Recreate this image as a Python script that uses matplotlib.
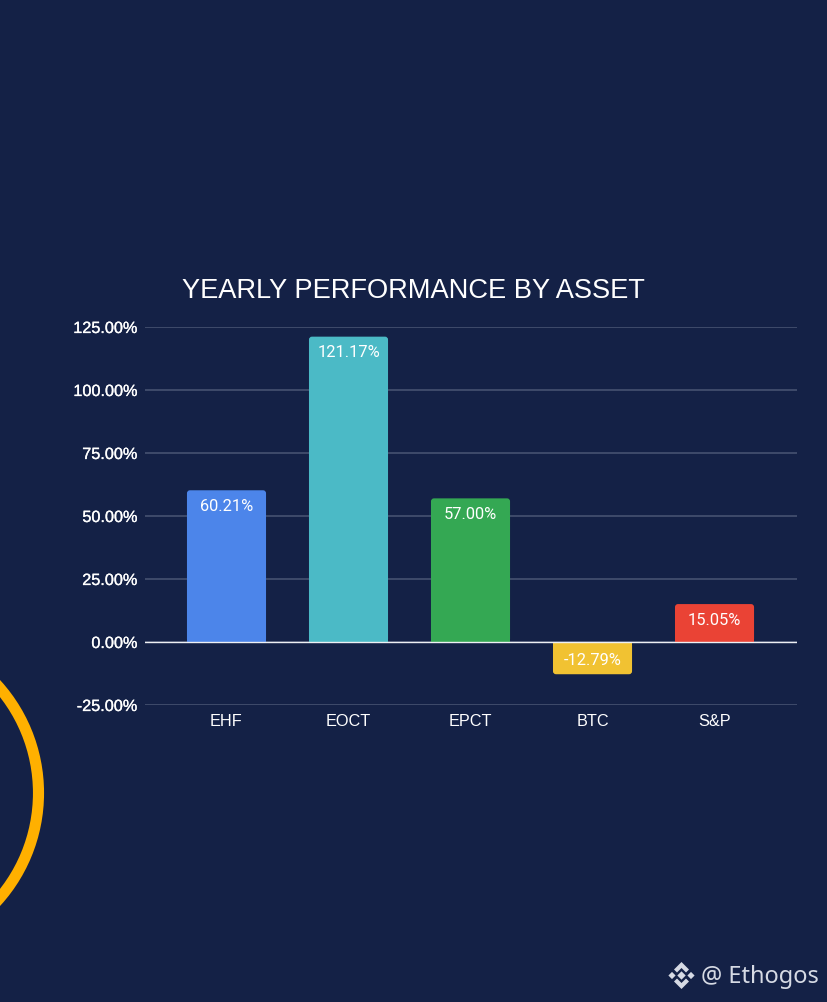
import matplotlib
matplotlib.use('Agg')
import matplotlib.pyplot as plt
import matplotlib.patheffects as pe
from matplotlib.patches import Circle, Polygon, FancyBboxPatch

assets = ['EHF', 'EOCT', 'EPCT', 'BTC', 'S&P']
returns = [60.21, 121.17, 57.00, -12.79, 15.05]
bar_colors = ['#4c85ea', '#4bbac6', '#34a853', '#f1c232', '#ea4335']
yticks = [-25, 0, 25, 50, 75, 100, 125]

BG = '#142146'
W, H = 828, 1002

fig = plt.figure(figsize=(W / 100, H / 100), dpi=100, facecolor=BG)

# full figure overlay in pixel coords, for the ring and the logo
bg = fig.add_axes([0, 0, 1, 1])
bg.set_xlim(0, W)
bg.set_ylim(H, 0)
bg.axis('off')
bg.add_patch(Circle((-123, 793), 161.5, fill=False, edgecolor='#ffb000', linewidth=8))

# binance style logo, made of small diamonds
logo = '#d6dae4'
def diamond(cx, cy, r):
    bg.add_patch(Polygon([(cx - r, cy), (cx, cy - r), (cx + r, cy), (cx, cy + r)],
                         facecolor=logo, edgecolor='none'))
diamond(681.5, 975.5, 4.2)
diamond(672, 975.5, 3.6)
diamond(691, 975.5, 3.6)
bg.add_patch(Polygon([(681.5, 962), (689, 969.5), (686, 972.5), (681.5, 968), (677, 972.5), (674, 969.5)],
                     facecolor=logo, edgecolor='none'))
bg.add_patch(Polygon([(681.5, 989), (689, 981.5), (686, 978.5), (681.5, 983), (677, 978.5), (674, 981.5)],
                     facecolor=logo, edgecolor='none'))
bg.text(701, 977, '@ Ethogos', color=logo, fontsize=17, family='Noto Sans',
        ha='left', va='center')
bg.text(413.5, 291, 'YEARLY PERFORMANCE BY ASSET', color='white', fontsize=19.6,
        family='Liberation Sans', ha='center', va='center')

# axes span x 145-797, y 327-705 px
ax = fig.add_axes([145 / W, 1 - 705 / H, 652 / W, 378 / H])
ax.patch.set_alpha(0)
ax.set_xlim(-0.668, 4.676)
ax.set_ylim(-25, 125)

bars = ax.bar(range(len(assets)), returns, width=0.648, color=bar_colors, zorder=3)

# round the far corners only: a round box on top, the bar's base half stays square
px_x = 652 / (4.676 + 0.668)
px_y = 378 / 150
for b, c in zip(bars, bar_colors):
    y0 = min(b.get_y(), b.get_y() + b.get_height())
    ax.add_patch(FancyBboxPatch((b.get_x(), y0), b.get_width(), abs(b.get_height()),
                                boxstyle='round,pad=0,rounding_size=%f' % (3 / px_x),
                                mutation_aspect=px_x / px_y,
                                facecolor=c, edgecolor='none', zorder=3))
    b.set_height(b.get_height() / 2)

ax.set_yticks(yticks)
ax.set_yticklabels(['%.2f%%' % v for v in yticks], family='Liberation Sans', fontsize=11.7, color='white')
ax.set_xticks(range(len(assets)))
ax.set_xticklabels(assets, family='Liberation Sans', fontsize=11.7, color='white')
ax.tick_params(axis='both', length=0)
ax.tick_params(axis='y', pad=5.5)
ax.tick_params(axis='x', pad=6.5)
ax.grid(axis='y', color='#4a5674', linewidth=1.1, zorder=1)
ax.axhline(0, color='#eef0f4', linewidth=1.0, zorder=4)
for s in ax.spines.values():
    s.set_visible(False)

# the reference y labels sit a bit heavier than regular
for t in ax.get_yticklabels():
    t.set_path_effects([pe.withStroke(linewidth=0.2, foreground='white')])

for i, v in enumerate(returns):
    if v >= 0:
        ax.annotate('%.2f%%' % v, (i, v), xytext=(0, -17), textcoords='offset points',
                    ha='center', va='bottom', color='white', family='Roboto', fontsize=11.8, zorder=5)
    else:
        ax.annotate('%.2f%%' % v, (i, v), xytext=(0, 15.5), textcoords='offset points',
                    ha='center', va='top', color='white', family='Roboto', fontsize=11.8, zorder=5)

fig.savefig('out.png', dpi=100, facecolor=BG)
